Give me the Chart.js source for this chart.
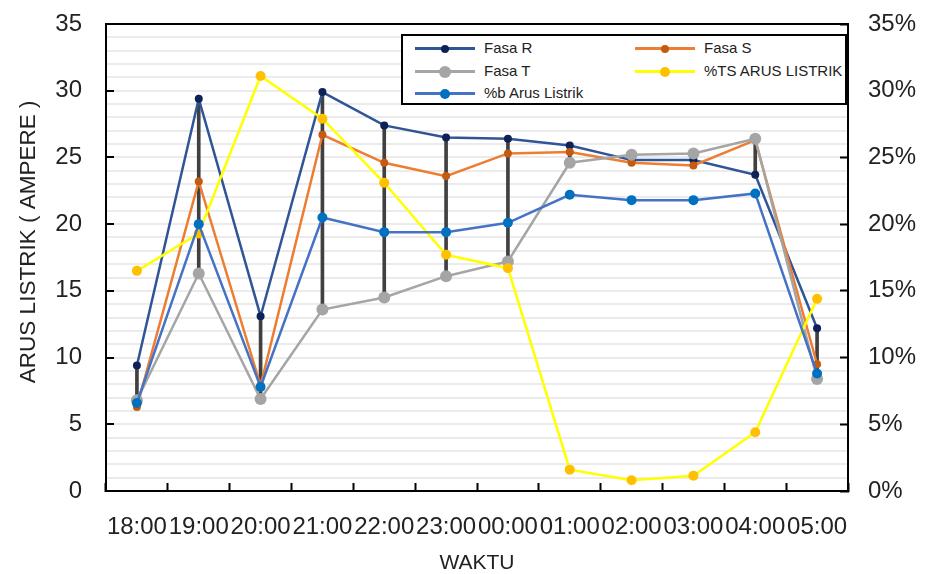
<!DOCTYPE html>
<html>
<head>
<meta charset="utf-8">
<script src="https://cdn.jsdelivr.net/npm/chart.js@4.4.0/dist/chart.umd.min.js"></script>
<style>
  html, body { margin: 0; padding: 0; background: #fff; }
  #wrap { position: relative; width: 928px; height: 574px; }
  #legend {
    position: absolute; left: 401px; top: 34px; width: 442px; height: 67px;
    border: 2px solid #000; background: #fff; overflow: hidden;
    font-family: "Liberation Sans", Arial, sans-serif; font-size: 15px; color: #222;
  }
  .item { position: absolute; height: 20px; line-height: 20px; white-space: nowrap; }
  .sym { position: absolute; top: 9px; width: 60px; height: 3px; }
  .dot { position: absolute; border-radius: 50%; }
  .txt { position: absolute; left: 69px; top: 0; }
</style>
</head>
<body>
<div id="wrap">
  <canvas id="c" width="928" height="574"></canvas>
  <div id="legend"></div>
</div>
<script>
const labels = ['18:00','19:00','20:00','21:00','22:00','23:00','00:00','01:00','02:00','03:00','04:00','05:00'];
const fasaR = [9.4, 29.4, 13.1, 29.9, 27.4, 26.5, 26.4, 25.9, 24.8, 24.8, 23.7, 12.2];
const fasaS = [6.3, 23.2, 7.9, 26.7, 24.6, 23.6, 25.3, 25.4, 24.6, 24.4, 26.3, 9.5];
const fasaT = [6.8, 16.3, 6.9, 13.6, 14.5, 16.1, 17.2, 24.6, 25.2, 25.3, 26.4, 8.4];
const tsPersen = [16.5, 19.3, 31.1, 27.9, 23.1, 17.7, 16.7, 1.6, 0.8, 1.15, 4.4, 14.4];
const bPersen = [6.6, 20.0, 7.8, 20.5, 19.4, 19.4, 20.1, 22.2, 21.8, 21.8, 22.3, 8.8];
const yTicksLeft = [0, 5, 10, 15, 20, 25, 30, 35];
const yTicksRight = ['0%', '5%', '10%', '15%', '20%', '25%', '30%', '35%'];

const highLow = labels.map((_, i) => {
  const v = [fasaR[i], fasaS[i], fasaT[i]];
  return [Math.min(...v), Math.max(...v)];
});

const series = [
  { label: 'Fasa R', data: fasaR, line: '#2F5597', point: '#0D2357', r: 4, col: 0, row: 0 },
  { label: 'Fasa S', data: fasaS, line: '#ED7D31', point: '#C55A11', r: 4, col: 1, row: 0 },
  { label: 'Fasa T', data: fasaT, line: '#A5A5A5', point: '#A5A5A5', r: 6, col: 0, row: 1 },
  { label: '%TS ARUS LISTRIK', data: tsPersen, line: '#FFFF00', point: '#FFC000', r: 5, col: 1, row: 1, axis: 'y1' },
  { label: '%b Arus Listrik', data: bPersen, line: '#4472C4', point: '#0070C0', r: 5, col: 0, row: 2 }
];

const fam = '"Liberation Sans", Arial, sans-serif';
const tickFont = { family: fam, size: 24 };
const yTitleFont = { family: fam, size: 22.5, lineHeight: 1 };
const xTitleFont = { family: fam, size: 21, lineHeight: 1 };
const txtColor = '#222';

const noPad = s => { s.paddingTop = 0; s.paddingBottom = 0; s.paddingLeft = 0; s.paddingRight = 0; };

const datasets = [{
  type: 'bar', label: 'hl', data: highLow, backgroundColor: '#404040',
  barThickness: 3, order: 10, yAxisID: 'y', xAxisID: 'x'
}];
series.forEach((s, i) => {
  datasets.push({
    type: 'line', label: s.label, data: s.data,
    borderColor: s.line, borderWidth: 2.5,
    pointBackgroundColor: s.point, pointBorderColor: s.point, pointBorderWidth: 0,
    pointRadius: s.r, tension: 0, order: 5 - i,
    yAxisID: s.axis || 'y', xAxisID: 'x'
  });
});

new Chart(document.getElementById('c'), {
  type: 'bar',
  data: { labels, datasets },
  options: {
    responsive: false, animation: false, devicePixelRatio: 1,
    layout: { padding: 0 },
    plugins: { legend: { display: false }, tooltip: { enabled: false } },
    scales: {
      x: {
        type: 'category', position: 'bottom', offset: true,
        grid: { offset: true, drawOnChartArea: false, drawTicks: true, tickLength: -8, tickWidth: 2, tickColor: '#000' },
        border: { display: true, color: '#000', width: 2 },
        ticks: { font: tickFont, color: txtColor, padding: 30, autoSkip: false, maxRotation: 0 },
        title: { display: true, text: 'WAKTU', font: xTitleFont, color: txtColor, padding: { top: 0, bottom: 0 } },
        afterFit: s => { noPad(s); s.height = 83; }
      },
      x2: {
        type: 'category', position: 'top', offset: true,
        grid: { display: true, drawOnChartArea: false, drawTicks: false },
        border: { display: true, color: '#000', width: 2 },
        ticks: { display: false },
        afterFit: s => { noPad(s); s.height = 24; }
      },
      y: {
        type: 'linear', position: 'left', min: 0, max: 35,
        ticks: {
          stepSize: 1, autoSkip: false, font: tickFont, color: txtColor, padding: 32,
          callback: v => (v % 5 === 0 ? String(yTicksLeft[v / 5]) : '')
        },
        grid: {
          color: ctx => (ctx.tick && (ctx.tick.value === 0 || ctx.tick.value === 35) ? 'rgba(0,0,0,0)' : '#EBEBEB'),
          lineWidth: 2, drawTicks: true, tickLength: -8, tickWidth: 2,
          tickColor: ctx => (ctx.tick && ctx.tick.value % 5 === 0 ? '#000' : 'rgba(0,0,0,0)')
        },
        border: { display: true, color: '#000', width: 2 },
        title: { display: true, text: '\u00a0\u00a0\u00a0\u00a0\u00a0ARUS LISTRIK ( AMPERE )', font: yTitleFont, color: txtColor, padding: { top: 18, bottom: 0 } },
        afterFit: s => { noPad(s); s.width = 106; }
      },
      y1: {
        type: 'linear', position: 'right', min: 0, max: 35,
        ticks: {
          stepSize: 5, autoSkip: false, font: tickFont, color: txtColor, padding: 28,
          callback: v => yTicksRight[v / 5]
        },
        grid: { drawOnChartArea: false, drawTicks: true, tickLength: -8, tickWidth: 2, tickColor: '#000' },
        border: { display: true, color: '#000', width: 2 },
        afterFit: s => { noPad(s); s.width = 80; }
      }
    }
  }
});

// HTML legend
const leg = document.getElementById('legend');
const colX = [12, 232];
const rowY = [2, 25, 47];
series.forEach(s => {
  const it = document.createElement('div');
  it.className = 'item';
  it.style.left = colX[s.col] + 'px';
  it.style.top = rowY[s.row] + 'px';
  const sym = document.createElement('div');
  sym.className = 'sym';
  sym.style.background = s.line;
  it.appendChild(sym);
  const dot = document.createElement('div');
  dot.className = 'dot';
  dot.style.width = dot.style.height = (s.r * 2) + 'px';
  dot.style.left = (30 - s.r) + 'px';
  dot.style.top = (10.5 - s.r) + 'px';
  dot.style.background = s.point;
  it.appendChild(dot);
  const t = document.createElement('span');
  t.className = 'txt';
  t.textContent = s.label;
  it.appendChild(t);
  leg.appendChild(it);
});
</script>
</body>
</html>
